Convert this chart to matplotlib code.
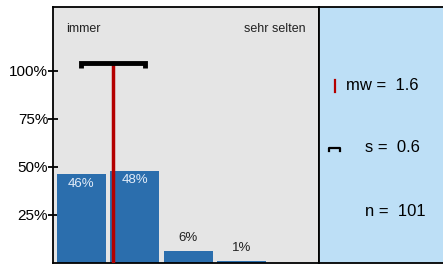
import numpy as np
import matplotlib.pyplot as plt

plt.rcParams['font.family'] = ['Liberation Sans', 'DejaVu Sans']

# answer categories 1 (immer) .. 5 (sehr selten)
categories = [1, 2, 3, 4, 5]
percent = [46, 48, 6, 1, 0]
labels = ['46%', '48%', '6%', '1%', '']
mean_val = 1.6
std_val = 0.6
n_val = 101

bar_color = '#2b6ead'
bg_grey = '#e5e5e5'
panel_blue = '#bddff6'

fig = plt.figure(figsize=(4.43, 2.64), dpi=100)
W, H = 443.0, 264.0

# main bar panel
ax = fig.add_axes([53 / W, 1 / H, 266 / W, 256 / H])
ax.set_facecolor(bg_grey)
ax.bar(categories, percent, width=0.92, color=bar_color, zorder=2)
ax.set_xlim(0.47, 5.45)
ax.set_ylim(0, 133)

for x, p, lab in zip(categories, percent, labels):
    if not lab:
        continue
    if p > 20:
        ax.text(x, p - 5, lab, ha='center', va='center', fontsize=9.5,
                color='#e2ecf8', zorder=3)
    else:
        ax.text(x, p + 7, lab, ha='center', va='center', fontsize=9.5,
                color='#222222', zorder=3)

# mean line and standard deviation bracket
ax.plot([mean_val, mean_val], [0, 104], color='#b40000', lw=2.5, zorder=4)
lo, hi = mean_val - std_val, mean_val + std_val
ax.plot([lo, lo, hi, hi], [101.5, 104, 104, 101.5], color='black', lw=3.5,
        solid_capstyle='butt', solid_joinstyle='miter', zorder=5)

ax.set_yticks([25, 50, 75, 100])
ax.set_yticklabels(['25%', '50%', '75%', '100%'], fontsize=11)
ax.tick_params(axis='y', length=7, width=1.3, direction='inout', pad=0)
ax.set_xticks([])
for sp in ax.spines.values():
    sp.set_color('black')
    sp.set_linewidth(1.3)

ax.text(0.05, 0.915, 'immer', transform=ax.transAxes, fontsize=9,
        ha='left', va='center', color='#222222')
ax.text(0.95, 0.915, 'sehr selten', transform=ax.transAxes, fontsize=9,
        ha='right', va='center', color='#222222')

# statistics panel
ax2 = fig.add_axes([319 / W, 1 / H, 124 / W, 256 / H])
ax2.set_facecolor(panel_blue)
ax2.set_xlim(0, 1)
ax2.set_ylim(0, 1)
ax2.set_xticks([])
ax2.set_yticks([])
ax2.spines['right'].set_visible(False)
for side in ['left', 'top', 'bottom']:
    ax2.spines[side].set_linewidth(1.3)

def py(y):
    return (263 - y) / 256.0

def px(x):
    return (x - 319) / 124.0

ax2.plot([px(335), px(335)], [py(80), py(92)], color='#b40000', lw=1.6)
ax2.plot([px(329), px(329), px(340), px(340)], [py(151), py(147.5), py(147.5), py(151)],
         color='black', lw=1.6)
ax2.text(px(346), py(85), 'mw =  1.6', fontsize=12, ha='left', va='center')
ax2.text(px(365), py(148), 's =  0.6', fontsize=12, ha='left', va='center')
ax2.text(px(365), py(211), 'n =  ' + str(n_val), fontsize=12, ha='left', va='center')

fig.savefig('out.png', dpi=100)
